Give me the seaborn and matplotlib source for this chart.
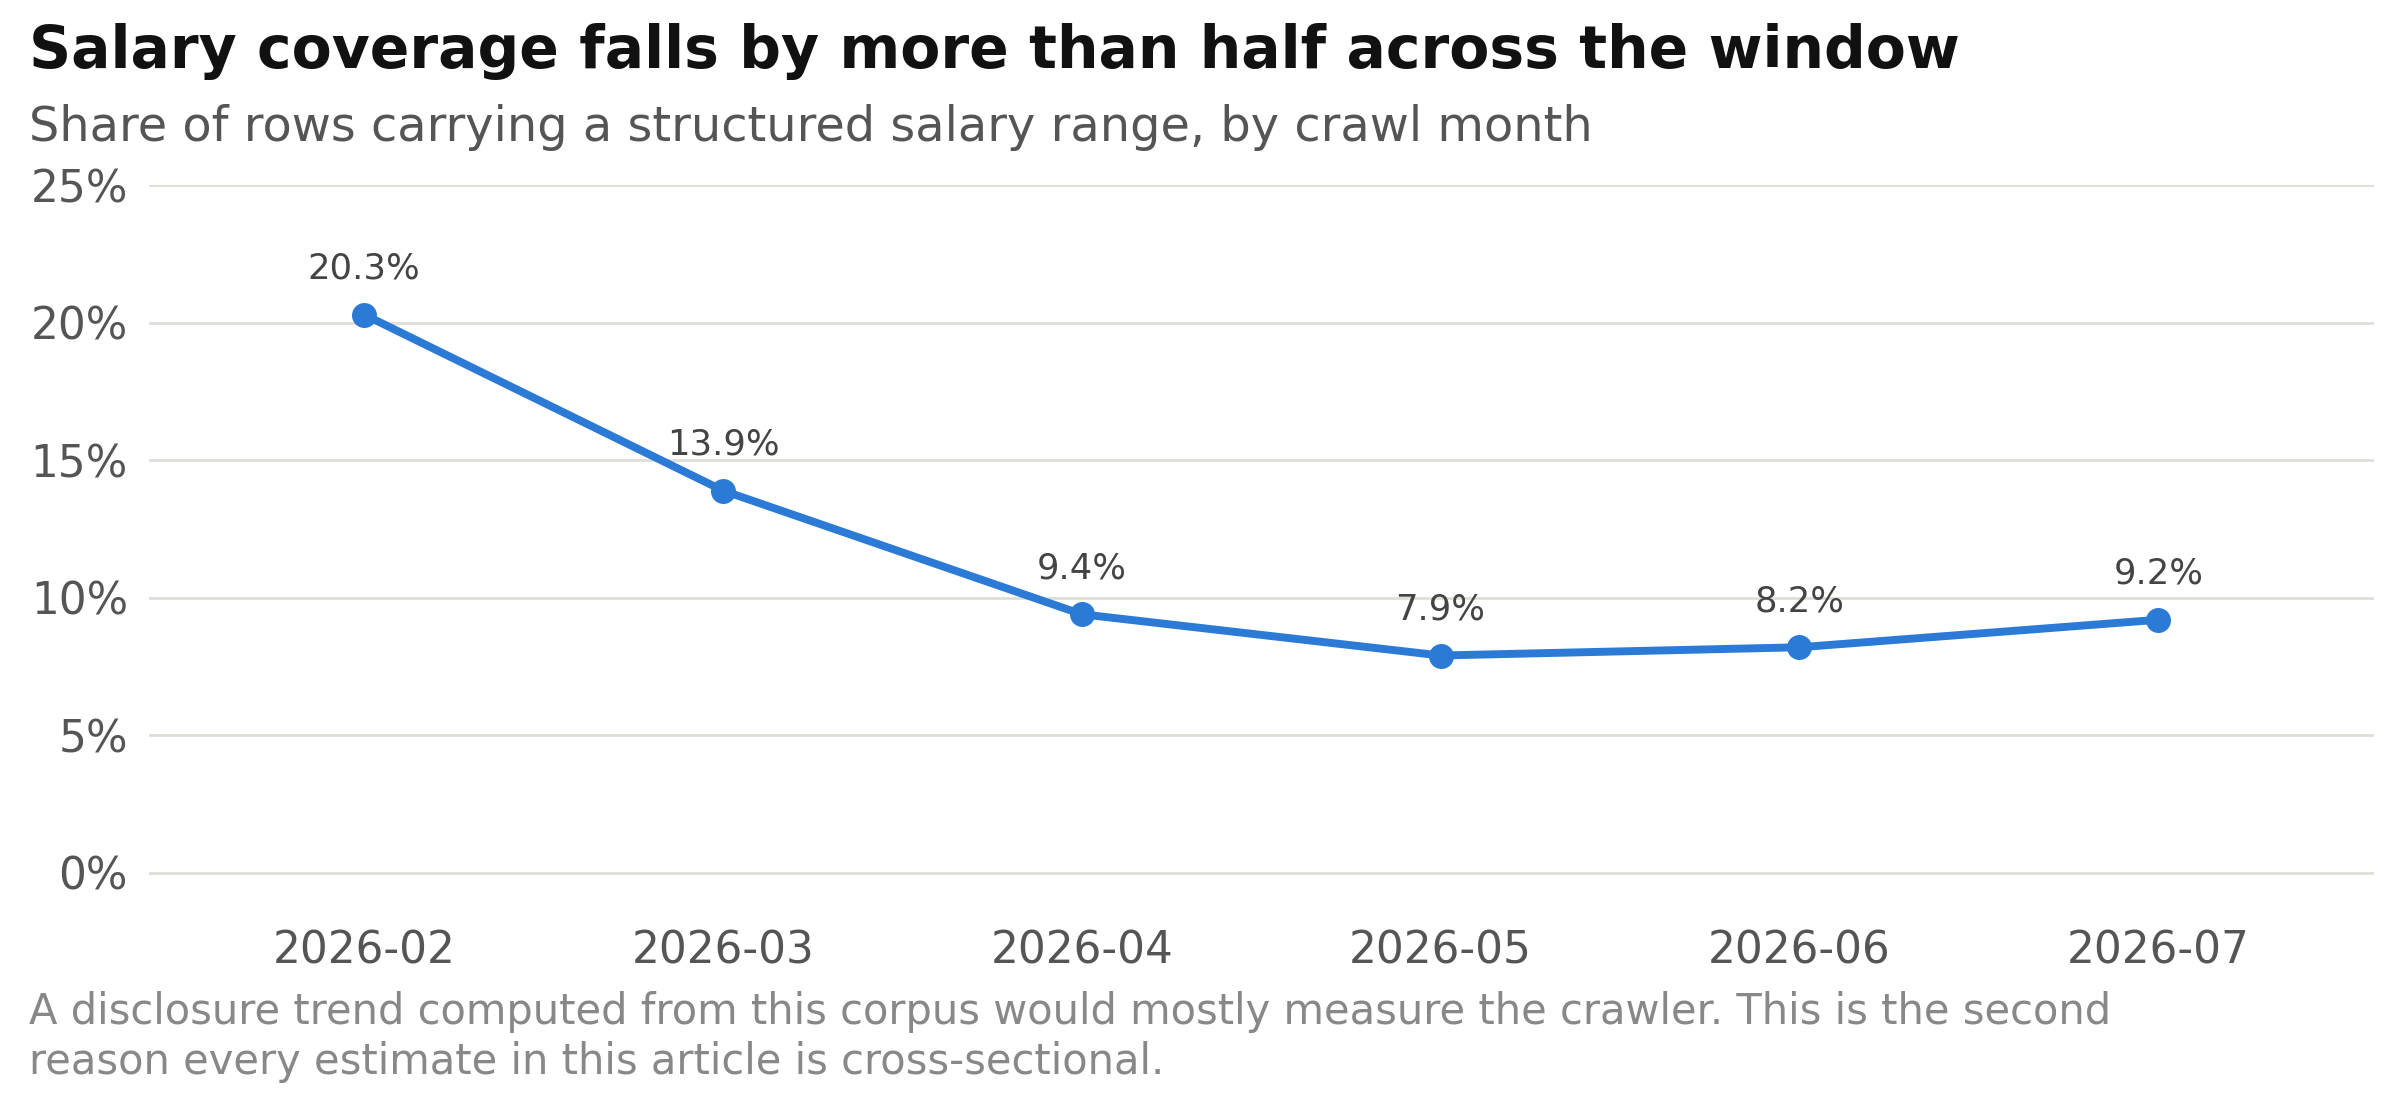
import matplotlib
matplotlib.use("Agg")
import matplotlib.pyplot as plt
import seaborn as sns
import pandas as pd

months = ["2026-02", "2026-03", "2026-04", "2026-05", "2026-06", "2026-07"]
share = [20.3, 13.9, 9.4, 7.9, 8.2, 9.2]

sns.set_theme(style="white")
plt.rcParams["font.family"] = ["DejaVu Sans"]

df = pd.DataFrame({"month": months, "share": share, "pos": range(len(months))})

fig = plt.figure(figsize=(16, 7.4), dpi=150)
ax = fig.add_axes([0.062, 0.189, 0.927, 0.644])

sns.lineplot(data=df, x="pos", y="share", ax=ax, color="#2b7bd6", linewidth=3.8,
             marker="o", markersize=12, markeredgewidth=0)

for x, y in zip(df["pos"], df["share"]):
    ax.annotate(f"{y:.1f}%", (x, y), xytext=(0, 14), textcoords="offset points",
                ha="center", va="bottom", fontsize=17, color="#444444")

ax.set_xlim(-0.6, 5.6)
ax.set_ylim(-1, 25)
ax.set_yticks([0, 5, 10, 15, 20, 25])
ax.set_yticklabels([f"{v}%" for v in [0, 5, 10, 15, 20, 25]])
ax.set_xticks(df["pos"])
ax.set_xticklabels(months)
ax.tick_params(axis="both", labelsize=21, colors="#555555", length=0)
ax.tick_params(axis="x", pad=14)
ax.tick_params(axis="y", pad=10)
ax.grid(axis="y", color="#deded6", linewidth=1.3)
ax.set_xlabel("")
ax.set_ylabel("")
for s in ax.spines.values():
    s.set_visible(False)

fig.text(0.012, 0.954, "Salary coverage falls by more than half across the window",
         fontsize=28, fontweight="bold", color="#111111", va="center")
fig.text(0.012, 0.885, "Share of rows carrying a structured salary range, by crawl month",
         fontsize=23, color="#555555", va="center")
fig.text(0.012, 0.066,
         "A disclosure trend computed from this corpus would mostly measure the crawler. This is the second\n"
         "reason every estimate in this article is cross-sectional.",
         fontsize=20, color="#888888", va="center", linespacing=1.25)

fig.savefig("out.png", dpi=150)
